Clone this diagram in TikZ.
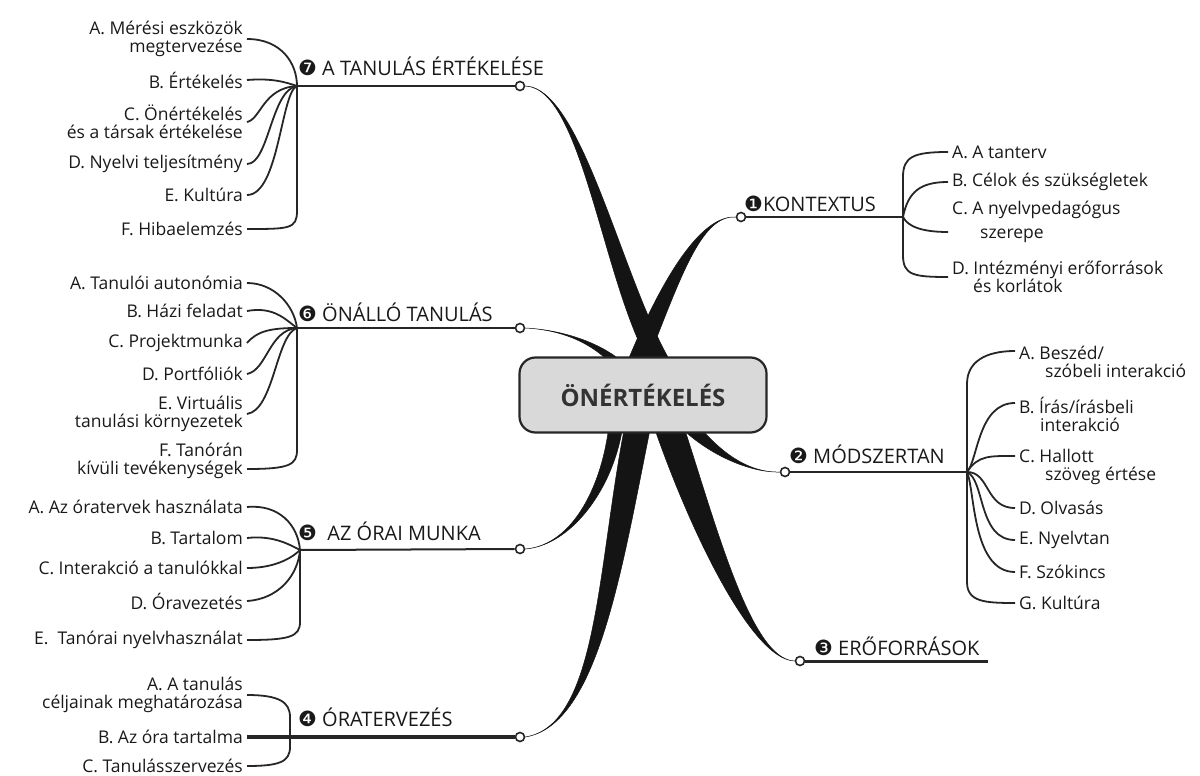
\documentclass[tikz,border=0pt]{standalone}
\usepackage{fontspec}
\setmainfont{Open Sans}
\newfontfamily\dingfont{DejaVu Sans}
\usetikzlibrary{calc,backgrounds,shapes}

\newcommand{\subsize}{\fontsize{17.5}{18}\selectfont}
\newcommand{\topicsize}{\fontsize{20}{24}\selectfont}
\newcommand{\topicnum}[1]{{\dingfont\fontsize{21}{21}\selectfont #1}}
% tapered main branch: thin end, control 1, control 2, base, half width
\newcommand{\taper}[5]{\fill[limb] (#1) .. controls (#2) and ($(#3)+(-#5,0)$) .. ($(#4)+(-#5,0)$) -- ($(#4)+(#5,0)$) .. controls ($(#3)+(#5,0)$) and (#2) .. (#1);}

\begin{document}
\begin{tikzpicture}[x=1pt, y=-1pt,
    lefttxt/.style={font=\subsize, text=black!90, align=right, anchor=east, inner xsep=4pt, inner ysep=1pt},
    righttxt/.style={font=\subsize, text=black!90, align=left, anchor=west, inner xsep=4pt, inner ysep=1pt},
    topic/.style={font=\topicsize, text=black!90, anchor=base west, inner sep=0pt},
    knob/.style={circle, draw=black!85, fill=white, line width=1.6pt, inner sep=0pt, minimum size=9pt},
    twig/.style={line width=1.8pt, draw=black!85},
    trunk/.style={line width=2pt, draw=black!85},
    limb/.style={fill=black!92, draw=black!92, line width=0.5pt},
    rootbox/.style={rounded corners=16pt, draw=black!85, line width=2.2pt, fill=black!15, minimum width=247pt, minimum height=75pt, font=\fontsize{24}{26}\selectfont\bfseries, text=black!80}]
    \useasboundingbox (0,0) rectangle (1200,776);

    % centre
    \node[rootbox] (root) at (643,395) {ÖNÉRTÉKELÉS};

    \node[knob] (k1) at (741,217) {};
    \node[knob] (k2) at (785,472) {};
    \node[knob] (k3) at (800,661) {};
    \node[knob] (k4) at (520,737) {};
    \node[knob] (k5) at (520,549) {};
    \node[knob] (k6) at (520,328) {};
    \node[knob] (k7) at (520,86) {};

    % main branches
    \begin{pgfonlayer}{background}
        \taper{k7.east}{585,88}{615,300}{668,375}{11}
        \taper{k1.west}{700,215}{670,280}{632,375}{10}
        \taper{k6.east}{565,330}{605,345}{628,375}{7}
        \taper{k2.west}{745,473}{705,448}{680,415}{10}
        \taper{k5.east}{575,545}{612,480}{617,415}{7}
        \taper{k4.east}{600,725}{610,560}{640,415}{13}
        \taper{k3.west}{750,660}{700,520}{665,415}{15}
    \end{pgfonlayer}

    % topics
    \node[topic] (t7) at (298,76) {\topicnum{❼} A TANULÁS ÉRTÉKELÉSE};
    \node[topic] (t6) at (298,321) {\topicnum{❻} ÖNÁLLÓ TANULÁS};
    \node[topic] (t5) at (298,540) {\topicnum{❺}\ \ AZ ÓRAI MUNKA};
    \node[topic] (t4) at (298,726) {\topicnum{❹} ÓRATERVEZÉS};
    \node[topic] (t1) at (744,211) {\topicnum{❶}KONTEXTUS};
    \node[topic] (t2) at (789,463) {\topicnum{❷} MÓDSZERTAN};
    \node[topic] (t3) at (814,655) {\topicnum{❸} ERŐFORRÁSOK};

    \coordinate (j7) at (297,86);
    \coordinate (j6) at (297,328);
    \coordinate (j5) at (300,550);
    \coordinate (j4) at (290,737);
    \coordinate (j1) at (903,217);
    \coordinate (j2) at (967,472);
    \coordinate (e3) at (988,661);

    \draw[trunk] (j7) -- (k7);
    \draw[trunk] (j6) -- (k6);
    \draw[trunk] (j5) -- (k5);
    \draw[trunk] (k1) -- (j1);
    \draw[trunk] (k2) -- (j2);
    \draw[trunk, line width=3pt] (k3) -- (e3);

    % 7
    \node[lefttxt] (g7a) at (247,39) {A. Mérési eszközök\\megtervezése};
    \node[lefttxt] (g7b) at (247,80) {B. Értékelés};
    \node[lefttxt] (g7c) at (247,122) {C. Önértékelés\\és a társak értékelése};
    \node[lefttxt] (g7d) at (247,164) {D. Nyelvi teljesítmény};
    \node[lefttxt] (g7e) at (247,195) {E. Kultúra};
    \node[lefttxt] (g7f) at (247,229) {F. Hibaelemzés};
    \draw[twig] (g7a.east) .. controls +(35,0) and +(0,-22) .. (j7);
    \draw[twig] (g7b.east) .. controls +(25,-2) and +(-12,-4) .. (j7);
    \draw[twig] (g7c.east) .. controls +(14,-3) and +(-34,2) .. (j7);
    \draw[twig] (g7d.east) .. controls +(22,0) and +(-26,4) .. (j7);
    \draw[twig] (g7e.east) .. controls +(32,0) and +(-16,6) .. (j7);
    \draw[twig] (g7f.east) .. controls +(42,0) and +(0,18) .. ($(j7)+(0,125)$) -- (j7);

    % 6
    \node[lefttxt] (g6a) at (247,283) {A. Tanulói autonómia};
    \node[lefttxt] (g6b) at (247,311) {B. Házi feladat};
    \node[lefttxt] (g6c) at (247,343) {C. Projektmunka};
    \node[lefttxt] (g6d) at (247,374) {D. Portfóliók};
    \node[lefttxt] (g6e) at (247,414) {E. Virtuális\\tanulási környezetek};
    \node[lefttxt] (g6f) at (247,461) {F. Tanórán\\kívüli tevékenységek};
    \draw[twig] (g6a.east) .. controls +(27,0) and +(-3,-23) .. (j6);
    \draw[twig] (g6b.east) .. controls +(27,-5) and +(-11,-8) .. (j6);
    \draw[twig] (g6c.east) .. controls +(10,-12) and +(-26,0) .. (j6);
    \draw[twig] (g6d.east) .. controls +(20,-4) and +(-28,2) .. (j6);
    \draw[twig] (g6e.east) .. controls +(27,-4) and +(-21,7) .. (j6);
    \draw[twig] ([yshift=-8pt]g6f.east) .. controls +(42,0) and +(0,15) .. ($(j6)+(0,122)$) -- (j6);

    % 5
    \node[lefttxt] (g5a) at (247,507) {A. Az óratervek használata};
    \node[lefttxt] (g5b) at (247,538) {B. Tartalom};
    \node[lefttxt] (g5c) at (247,568) {C. Interakció a tanulókkal};
    \node[lefttxt] (g5d) at (247,601) {D. Óravezetés};
    \node[lefttxt] (g5e) at (247,640) {E.\ \ Tanórai nyelvhasználat};
    \draw[twig] (g5a.east) .. controls +(32,-3) and +(-2,-25) .. (j5);
    \draw[twig] (g5b.east) .. controls +(27,-3) and +(-10,-5) .. (j5);
    \draw[twig] (g5c.east) .. controls +(32,0) and +(-5,5) .. (j5);
    \draw[twig] (g5d.east) .. controls +(32,-2) and +(-2,25) .. (j5);
    \draw[twig] (g5e.east) .. controls +(42,0) and +(0,15) .. ($(j5)+(0,72)$) -- (j5);

    % 4
    \node[lefttxt] (g4a) at (247,695) {A. A tanulás\\céljainak meghatározása};
    \node[lefttxt] (g4b) at (247,737) {B. Az óra tartalma};
    \node[lefttxt] (g4c) at (247,766) {C. Tanulásszervezés};
    \draw[twig] (g4a.east) .. controls +(32,0) and +(0,-15) .. ($(j4)+(0,-20)$) -- ($(j4)+(0,10)$) .. controls +(0,15) and +(32,0) .. (g4c.east);
    \draw[trunk, line width=3.5pt] (g4b.east) -- (k4);

    % 1
    \node[righttxt] (g1a) at (948,152) {A. A tanterv};
    \node[righttxt] (g1b) at (948,182) {B. Célok és szükségletek};
    \node[righttxt] (g1c) at (948,222) {C. A nyelvpedagógus\\[6pt]\hspace*{28pt}szerepe};
    \node[righttxt] (g1d) at (948,277) {D. Intézményi erőforrások\\\hspace*{21pt}és korlátok};
    \draw[twig] (g1a.west) .. controls +(-35,0) and +(0,-20) .. ($(j1)+(0,-40)$) -- ($(j1)+(0,38)$) .. controls +(0,20) and +(-35,0) .. (g1d.west);
    \draw[twig] (j1) .. controls +(5,-25) and +(-28,0) .. (g1b.west);
    \draw[twig] (j1) .. controls +(5,10) and +(-25,0) .. ([yshift=-10pt]g1c.west);

    % 2
    \node[righttxt] (g2a) at (1015,362) {A. Beszéd/\\\hspace*{26pt}szóbeli interakció};
    \node[righttxt] (g2b) at (1015,414) {B. Írás/írásbeli\\\hspace*{21pt}interakció};
    \node[righttxt] (g2c) at (1015,467) {C. Hallott\\\hspace*{26pt}szöveg értése};
    \node[righttxt] (g2d) at (1015,508) {D. Olvasás};
    \node[righttxt] (g2e) at (1015,540) {E. Nyelvtan};
    \node[righttxt] (g2f) at (1015,572) {F. Szókincs};
    \node[righttxt] (g2g) at (1015,603) {G. Kultúra};
    \draw[twig] ([yshift=11pt]g2a.west) .. controls +(-30,0) and +(0,-22) .. ($(j2)+(0,-88)$) -- ($(j2)+(0,110)$) .. controls +(0,20) and +(-30,0) .. (g2g.west);
    \draw[twig] (j2) .. controls +(11,-12) and +(-37,0) .. ([yshift=11pt]g2b.west);
    \draw[twig] (j2) .. controls +(11,-17) and +(-25,0) .. ([yshift=11pt]g2c.west);
    \draw[twig] (j2) .. controls +(23,0) and +(-30,0) .. (g2d.west);
    \draw[twig] (j2) .. controls +(18,8) and +(-37,0) .. (g2e.west);
    \draw[twig] (j2) .. controls +(8,18) and +(-43,0) .. (g2f.west);
\end{tikzpicture}
\end{document}
